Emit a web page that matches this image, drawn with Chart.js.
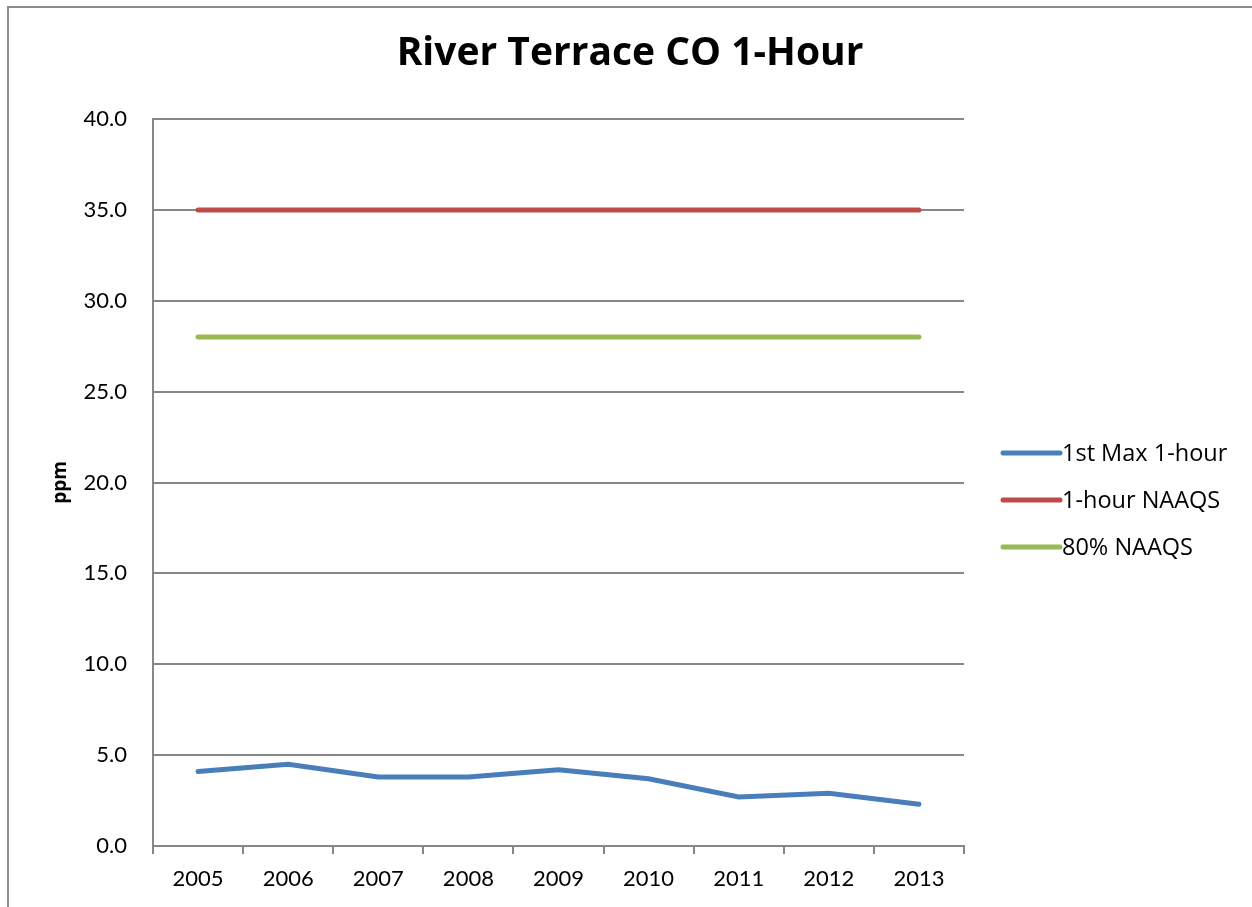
<!DOCTYPE html>
<html>
<head>
<meta charset="utf-8">
<title>River Terrace CO 1-Hour</title>
<script src="https://cdn.jsdelivr.net/npm/chart.js@4.4.1/dist/chart.umd.min.js"></script>
<style>
  html, body { margin: 0; padding: 0; background: #fff; overflow: hidden; }
  .frame { position: absolute; left: 7px; top: 6px; width: 1400px; height: 1000px;
           border-left: 2px solid #8c8c8c; border-top: 2px solid #8c8c8c; }
  #coChart { position: absolute; left: 0; top: 0; }
</style>
</head>
<body>
<div class="frame"></div>
<canvas id="coChart" width="1252" height="907"></canvas>
<script>
const chartTitle = 'River Terrace CO 1-Hour';
const years = ['2005', '2006', '2007', '2008', '2009', '2010', '2011', '2012', '2013'];
const maxOneHour = [4.1, 4.5, 3.8, 3.8, 4.2, 3.7, 2.7, 2.9, 2.3];
const naaqs = [35, 35, 35, 35, 35, 35, 35, 35, 35];
const naaqs80 = [28, 28, 28, 28, 28, 28, 28, 28, 28];
const seriesNames = ['1st Max 1-hour', '1-hour NAAQS', '80% NAAQS'];
const seriesColors = ['#4a7ebb', '#be4b48', '#98b954'];

const gridGrey = '#878787';
const tickFont = 'Lato, "Open Sans", sans-serif';
const textFont = '"Open Sans", Lato, sans-serif';

// title centred on the whole frame and legend at the right, like the spreadsheet
const frameText = {
  id: 'frameText',
  afterDraw(chart, args, opts) {
    const ctx = chart.ctx;
    ctx.save();
    ctx.fillStyle = '#000';
    ctx.textAlign = 'center';
    ctx.textBaseline = 'alphabetic';
    ctx.font = 'bold ' + opts.titleSize + 'px ' + textFont;
    ctx.fillText(chartTitle, opts.titleX, opts.titleY);

    ctx.textAlign = 'left';
    ctx.font = opts.legendSize + 'px ' + textFont;
    ctx.lineCap = 'round';
    chart.data.datasets.forEach((ds, i) => {
      const y = opts.legendTop + i * opts.legendStep;
      ctx.strokeStyle = ds.borderColor;
      ctx.lineWidth = 5;
      ctx.beginPath();
      ctx.moveTo(opts.legendLeft, y);
      ctx.lineTo(opts.legendLeft + opts.lineLength, y);
      ctx.stroke();
      ctx.fillText(ds.label, opts.legendLeft + opts.lineLength + 2, y + 8);
    });
    ctx.restore();
  },
};

const datasets = [maxOneHour, naaqs, naaqs80].map((values, i) => ({
  label: seriesNames[i],
  data: values,
  borderColor: seriesColors[i],
  backgroundColor: seriesColors[i],
  borderWidth: 5,
  borderCapStyle: 'round',
  pointRadius: 0,
  tension: 0,
}));

new Chart(document.getElementById('coChart'), {
  type: 'line',
  data: { labels: years, datasets },
  plugins: [frameText],
  options: {
    responsive: false,
    animation: false,
    layout: { padding: { left: 40, right: 288, top: 119, bottom: 0 } },
    plugins: {
      legend: { display: false },
      tooltip: { enabled: false },
      title: { display: false },
      frameText: {
        titleX: 630, titleY: 65, titleSize: 39,
        legendLeft: 1003, legendTop: 453, legendStep: 47, lineLength: 57, legendSize: 23.5,
      },
    },
    scales: {
      x: {
        offset: true,
        grid: { offset: true, drawOnChartArea: false, drawTicks: true, tickLength: 8, color: gridGrey, lineWidth: 2 },
        border: { color: gridGrey, width: 2 },
        ticks: { color: '#000', font: { family: tickFont, size: 22 }, padding: 12, maxRotation: 0 },
        afterFit(scale) { scale.height = 61; },
      },
      y: {
        min: 0,
        max: 40,
        grid: { drawTicks: false, color: gridGrey, lineWidth: 2 },
        border: { color: gridGrey, width: 2 },
        ticks: { stepSize: 5, color: '#000', font: { family: tickFont, size: 22 }, padding: 26,
                 callback: (v) => v.toFixed(1) },
        title: { display: true, text: 'ppm', color: '#000', font: { family: textFont, size: 19, weight: 'bold' },
                 padding: { top: 9, bottom: 0 } },
        afterFit(scale) { scale.width = 113; },
      },
    },
  },
});
</script>
</body>
</html>
